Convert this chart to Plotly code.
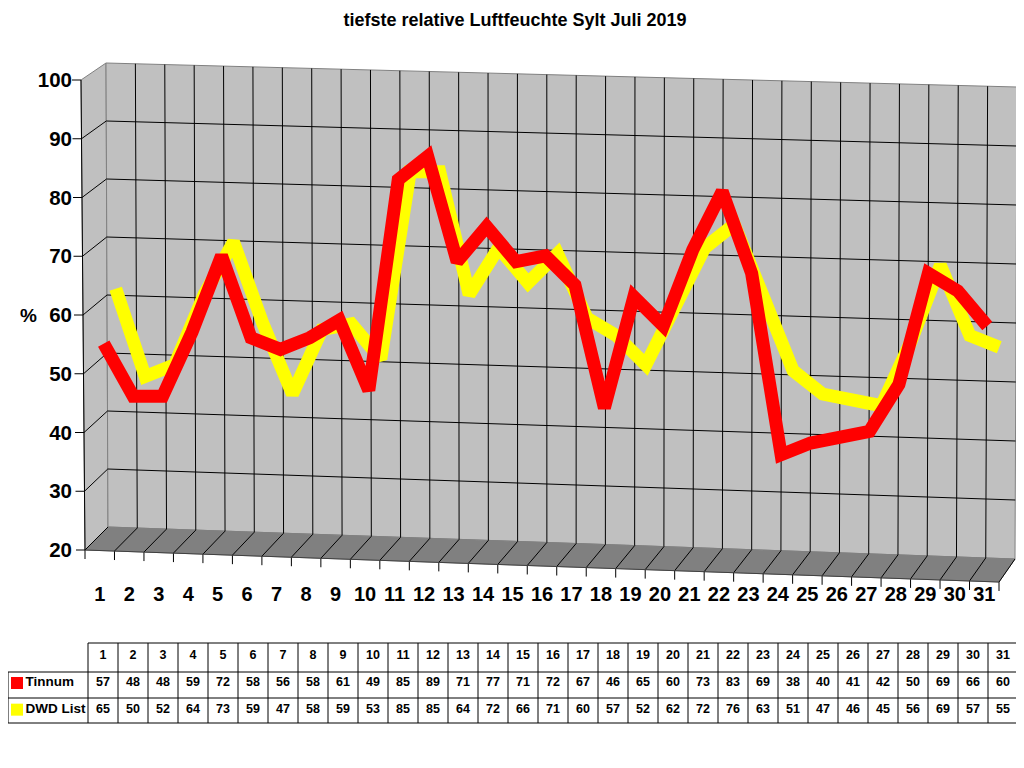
import plotly.graph_objects as go

# Tageswerte Juli 2019
days = list(range(1, 32))
tinnum = [57, 48, 48, 59, 72, 58, 56, 58, 61, 49, 85, 89, 71, 77, 71, 72,
          67, 46, 65, 60, 73, 83, 69, 38, 40, 41, 42, 50, 69, 66, 60]
dwd_list = [65, 50, 52, 64, 73, 59, 47, 58, 59, 53, 85, 85, 64, 72, 66, 71,
            60, 57, 52, 62, 72, 76, 63, 51, 47, 46, 45, 56, 69, 57, 55]
y_ticks = [20, 30, 40, 50, 60, 70, 80, 90, 100]
series_names = ["Tinnum", "DWD List"]
series_colors = ["#FF0000", "#FFFF00"]

# the page body has an 8px margin, so the figure is a bit smaller
OFF = 8
W, H = 1024 - OFF, 768 - OFF
FONT = "Liberation Sans, Arial, sans-serif"
WALL = "#C0C0C0"
FLOOR = "#808080"


def px(x):
    return (x - OFF) / W


def py(y):
    return 1 - (y - OFF) / H


def line(x0, y0, x1, y1, color="black", width=1, layer="below"):
    return dict(type="line", xref="paper", yref="paper", layer=layer,
                x0=px(x0), y0=py(y0), x1=px(x1), y1=py(y1),
                line=dict(color=color, width=width))


def poly(points, fill, edge):
    d = "M " + " L ".join(f"{px(x)},{py(y)}" for x, y in points) + " Z"
    return dict(type="path", xref="paper", yref="paper", layer="below",
                path=d, fillcolor=fill, line=dict(color=edge, width=1))


def lerp(a, b, t):
    return a + (b - a) * t


# Eckpunkte der 3D-Box (Pixel)
fl_top, fl_bot = (81, 80), (85, 550)      # vorne links
bl_top, bl_bot = (106, 63), (108, 527)    # hinten links
br_top, br_bot = (1017, 87), (1015, 559)  # hinten rechts
fr_bot = (999, 582)                       # vorne rechts

shapes = [
    poly([fl_top, bl_top, bl_bot, fl_bot], WALL, FLOOR),
    poly([bl_top, br_top, br_bot, bl_bot], WALL, FLOOR),
    poly([fl_bot, bl_bot, br_bot, fr_bot], FLOOR, FLOOR),
]

# waagerechte Gitterlinien (Seitenwand + Rueckwand)
for v in y_ticks[1:-1]:
    t = (100 - v) / 80
    xf, yf = lerp(fl_top[0], fl_bot[0], t), lerp(fl_top[1], fl_bot[1], t)
    xl, yl = lerp(bl_top[0], bl_bot[0], t), lerp(bl_top[1], bl_bot[1], t)
    xr, yr = lerp(br_top[0], br_bot[0], t), lerp(br_top[1], br_bot[1], t)
    shapes.append(line(xf, yf, xl, yl))
    shapes.append(line(xl, yl, xr, yr))

# senkrechte Gitterlinien, Bodenlinien und Teilstriche
n = len(days)
for k in range(n + 1):
    t = k / n
    tx, ty = lerp(bl_top[0], br_top[0], t), lerp(bl_top[1], br_top[1], t)
    bx, by = lerp(bl_bot[0], br_bot[0], t), lerp(bl_bot[1], br_bot[1], t)
    fx, fy = lerp(fl_bot[0], fr_bot[0], t), lerp(fl_bot[1], fr_bot[1], t)
    if 0 < k < n:
        shapes.append(line(tx, ty, bx, by))
    shapes.append(line(fx, fy, bx, by))
    shapes.append(line(fx, fy, fx, fy + 9))

# vordere Kante und y-Achse
shapes.append(line(*fl_bot, *fr_bot, color="#404040"))
shapes.append(line(*fl_top, *fl_bot))
for v in y_ticks:
    t = (100 - v) / 80
    xf, yf = lerp(fl_top[0], fl_bot[0], t), lerp(fl_top[1], fl_bot[1], t)
    shapes.append(line(xf - 9, yf, xf, yf))

# Tabellenraster
tab_l, tab_c, tab_r = 8, 88, 1018
rows_y = [643, 672, 698, 723]
col_w = (tab_r - tab_c) / n
for k in range(n + 1):
    x = tab_c + k * col_w
    shapes.append(line(x, rows_y[0], x, rows_y[-1], layer="above"))
shapes.append(line(tab_l, rows_y[1], tab_l, rows_y[-1], layer="above"))
shapes.append(line(tab_c, rows_y[0], tab_r, rows_y[0], layer="above"))
for y in rows_y[1:]:
    shapes.append(line(tab_l, y, tab_r, y, layer="above"))

fig = go.Figure()

# DWD List liegt hinten, Tinnum vorne
fig.add_trace(go.Scatter(x=days, y=dwd_list, mode="lines", name="DWD List",
                         line=dict(color="#FFFF00", width=13),
                         xaxis="x", yaxis="y", hoverinfo="skip"))
fig.add_trace(go.Scatter(x=days, y=tinnum, mode="lines", name="Tinnum",
                         line=dict(color="#FF0000", width=13),
                         xaxis="x2", yaxis="y2", hoverinfo="skip"))
# leere Spur, damit die Beschriftungsachsen gezeichnet werden
fig.add_trace(go.Scatter(x=[], y=[], xaxis="x3", yaxis="y3",
                         hoverinfo="skip"))

# Datentabelle als Text auf eigener Achse
tfont = dict(family=FONT, size=12.5, color="black", weight="bold")
fig.add_trace(go.Scatter(x=days, y=["Tag"] * n, text=[str(d) for d in days],
                         mode="text", textfont=tfont,
                         xaxis="x4", yaxis="y4", hoverinfo="skip"))
for name, vals in zip(series_names, [tinnum, dwd_list]):
    fig.add_trace(go.Scatter(x=days, y=[name] * n,
                             text=[str(v) for v in vals],
                             mode="text", textfont=tfont,
                             xaxis="x4", yaxis="y4", hoverinfo="skip"))
label_x = 0.5 - (tab_c - 17) / col_w
fig.add_trace(go.Scatter(x=[label_x] * 2, y=series_names, text=series_names,
                         mode="markers+text", textposition="middle right",
                         marker=dict(symbol="square", size=12,
                                     color=series_colors, line=dict(width=0)),
                         textfont=dict(family=FONT, size=13.5, color="black",
                                       weight="bold"),
                         xaxis="x4", yaxis="y4", hoverinfo="skip"))

hidden = dict(visible=False, fixedrange=True)
fig.update_layout(
    width=W, height=H, autosize=False,
    margin=dict(l=0, r=0, t=0, b=0, autoexpand=False),
    paper_bgcolor="white", plot_bgcolor="rgba(0,0,0,0)",
    showlegend=False,
    font=dict(family=FONT, color="black"),
    title=dict(text="<b>tiefste relative Luftfeuchte Sylt Juli 2019</b>",
               x=px(515), xanchor="center", y=py(20), yanchor="middle",
               yref="container", font=dict(size=18, family=FONT)),
    shapes=shapes,
    xaxis=dict(domain=[px(101), px(1014)], range=[0.5, 31.5],
               anchor="y", **hidden),
    yaxis=dict(domain=[py(552), py(84)], range=[20, 100],
               anchor="x", **hidden),
    xaxis2=dict(domain=[px(89), px(1002)], range=[0.5, 31.5],
                anchor="y2", **hidden),
    yaxis2=dict(domain=[py(560), py(92)], range=[20, 100],
                anchor="x2", **hidden),
    xaxis3=dict(domain=[px(85), px(999)], range=[0.5, 31.5],
                anchor="free", position=py(580), showgrid=False,
                zeroline=False, showline=False, ticks="",
                automargin=False,
                tickmode="array", tickvals=days,
                ticktext=[str(d) for d in days],
                tickfont=dict(size=20, family=FONT, weight="bold"),
                fixedrange=True),
    yaxis3=dict(domain=[py(550), py(80)], range=[20, 100],
                anchor="free", position=px(72), showgrid=False,
                zeroline=False, showline=False, ticks="",
                automargin=False,
                tickmode="array", tickvals=y_ticks,
                tickfont=dict(size=20.5, family=FONT, weight="bold"),
                fixedrange=True),
    xaxis4=dict(domain=[px(tab_l), px(tab_r)],
                range=[0.5 - (tab_c - tab_l) / col_w, 31.5],
                anchor="y4", **hidden),
    yaxis4=dict(domain=[py(rows_y[-1]), py(rows_y[0])], type="category",
                categoryorder="array",
                categoryarray=["DWD List", "Tinnum", "Tag"],
                range=[-0.5, 2.5], anchor="x4", **hidden),
    annotations=[dict(text="<b>%</b>", xref="paper", yref="paper",
                      x=px(18), y=py(316), showarrow=False,
                      font=dict(size=19, family=FONT))],
)

fig.write_html("out.html")
